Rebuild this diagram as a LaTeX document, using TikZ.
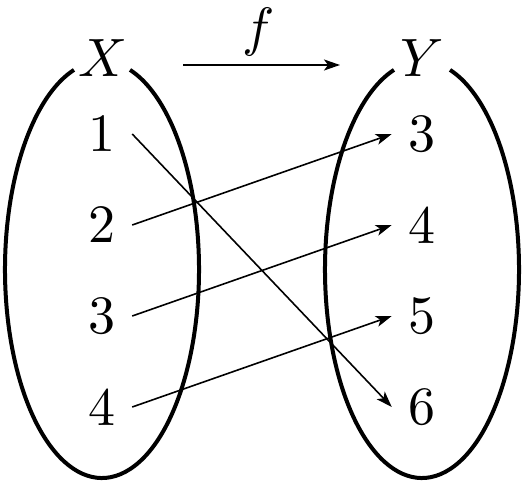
\documentclass[tikz,border=0pt]{standalone}
\usetikzlibrary{arrows.meta}
\begin{document}
\begin{tikzpicture}[x=1pt,y=1pt,
  setline/.style={line width=4pt},
  maparrow/.style={line width=1.6pt,-{Stealth[length=16pt,width=11pt,inset=4pt]}},
  elem/.style={inner xsep=2.9pt,inner ysep=0pt,font=\fontsize{10}{12}\selectfont,scale=5.4},
  setlabel/.style={inner sep=0pt,font=\fontsize{10}{12}\selectfont,scale=5.4}]
\useasboundingbox (0,0) rectangle (524,485);
\coordinate (Lc) at (102,215.5);
\coordinate (Rc) at (422,215.5);
\draw[setline] ([shift={(106.8:97pt and 208.5pt)}]Lc) arc[start angle=106.8,end angle=433.2,x radius=97pt,y radius=208.5pt];
\draw[setline] ([shift={(106.8:97pt and 208.5pt)}]Rc) arc[start angle=106.8,end angle=433.2,x radius=97pt,y radius=208.5pt];
\node[setlabel] (X) at (103,427) {$X$};
\node[setlabel] (Y) at (422,427) {$Y$};
\node[setlabel] (f) at (259,453) {$f$};
\coordinate (fs) at (183,420);
\coordinate (fe) at (340,420);
\draw[maparrow] (fs) -- (fe);
\node[elem] (a1) at (102,351) {1};
\node[elem] (a2) at (102,260) {2};
\node[elem] (a3) at (102,169) {3};
\node[elem] (a4) at (102,78) {4};
\node[elem] (b3) at (422,351) {3};
\node[elem] (b4) at (422,260) {4};
\node[elem] (b5) at (422,169) {5};
\node[elem] (b6) at (422,78) {6};
\draw[maparrow] (a1.east) -- (b6.west);
\draw[maparrow] (a2.east) -- (b3.west);
\draw[maparrow] (a3.east) -- (b4.west);
\draw[maparrow] (a4.east) -- (b5.west);
\end{tikzpicture}
\end{document}
